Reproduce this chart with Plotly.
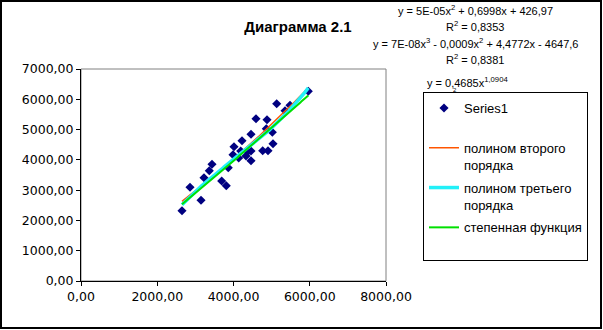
import numpy as np
import plotly.graph_objects as go

# Observed points (x, y)
x_vals = [2649, 3148, 2859, 3226, 3365, 3436, 3690, 3811, 3863, 4013,
          3987, 4136, 4223, 4189, 4328, 4372, 4459, 4459, 4459, 4590,
          4766, 4905, 4860, 4879, 5018, 5036, 5133, 5351, 5482, 5962]
y_vals = [2321, 2665, 3094, 3411, 3642, 3853, 3302, 3147, 3741, 4435,
          4170, 4061, 4633, 4293, 4128, 4270, 4293, 3972, 4844, 5359,
          4303, 4303, 5029, 5326, 4910, 4534, 5855, 5623, 5802, 6264]

# Trend line coefficients as printed on the chart
quad_coef = [5e-05, 0.6998, 426.97]
power_a = 0.4685
power_b = 1.0904

x_ticks = [0, 2000, 4000, 6000, 8000]
x_tick_text = ["0,00", "2000,00", "4000,00", "6000,00", "8000,00"]
y_ticks = [0, 1000, 2000, 3000, 4000, 5000, 6000, 7000]
y_tick_text = ["0,00", "1000,00", "2000,00", "3000,00", "4000,00",
               "5000,00", "6000,00", "7000,00"]

eq_lines = [
    "y = 5E-05x<sup>2</sup> + 0,6998x + 426,97",
    "R<sup>2</sup> = 0,8353",
    "y = 7E-08x<sup>3</sup> - 0,0009x<sup>2</sup> + 4,4772x - 4647,6",
    "R<sup>2</sup> = 0,8381",
]
power_eq = "y = 0,4685x<sup>1,0904</sup>"

FONT = "Arial, Liberation Sans, sans-serif"
TICK_FONT = "DejaVu Sans, Verdana, sans-serif"

xs = np.array(x_vals, dtype=float)
ys = np.array(y_vals, dtype=float)
xf = np.linspace(xs.min(), xs.max(), 200)
y_quad = np.polyval(quad_coef, xf)
y_cub = np.polyval(np.polyfit(xs, ys, 3), xf)
y_pow = power_a * xf ** power_b

fig = go.Figure()
fig.add_trace(go.Scatter(
    x=xs, y=ys, mode="markers", name="Series1<br> ", legendrank=1,
    legendgroup="a",
    marker=dict(symbol="diamond", size=7, color="#000080"),
))
fig.add_trace(go.Scatter(
    x=xf, y=y_quad, mode="lines", name="полином второго<br>порядка",
    legendrank=2, legendgroup="b", line=dict(color="#FF5500", width=1.5),
))
fig.add_trace(go.Scatter(
    x=xf, y=y_cub, mode="lines", name="полином третьего<br>порядка",
    legendrank=3, legendgroup="c", line=dict(color="#22F0F8", width=3.5),
))
fig.add_trace(go.Scatter(
    x=xf, y=y_pow, mode="lines", name="степенная функция<br> ",
    legendrank=4, legendgroup="d", line=dict(color="#00E000", width=2),
))

L, R, T, B = 81, 217, 69, 49
W, H = 603, 330
pw, ph = W - L - R, H - T - B


def px(xp):
    return (xp - L) / pw


def py(yp):
    return (H - B - yp) / ph


annotations = []
for i, line in enumerate(eq_lines):
    annotations.append(dict(
        x=px(475), y=py(10 + i * 16.3), xref="paper", yref="paper",
        text=line, showarrow=False, xanchor="center", yanchor="middle",
        font=dict(family=FONT, size=11, color="black"),
    ))
annotations.append(dict(
    x=px(425), y=py(82), xref="paper", yref="paper", text=power_eq,
    showarrow=False, xanchor="left", yanchor="middle",
    font=dict(family=FONT, size=11, color="black"),
))
annotations.append(dict(
    x=px(455), y=py(90), xref="paper", yref="paper", text="2",
    showarrow=False, xanchor="center", yanchor="middle",
    font=dict(family=FONT, size=6, color="black"),
))

fig.update_layout(
    width=W, height=H,
    margin=dict(l=L, r=R, t=T, b=B),
    paper_bgcolor="white", plot_bgcolor="white",
    title=dict(text="<b>Диаграмма 2.1</b>", x=298 / W, y=1 - 27 / H,
               xref="container", yref="container",
               xanchor="center", yanchor="middle",
               font=dict(family=FONT, size=15, color="black")),
    font=dict(family=FONT, size=13, color="black"),
    xaxis=dict(range=[0, 8000], tickvals=x_ticks, ticktext=x_tick_text,
               showgrid=False, zeroline=False, showline=True,
               linecolor="black", linewidth=1, ticks="outside",
               ticklen=4, tickcolor="black",
               tickfont=dict(family=TICK_FONT, size=12.5)),
    yaxis=dict(range=[0, 7000], tickvals=y_ticks, ticktext=y_tick_text,
               showgrid=False, zeroline=False, showline=True,
               linecolor="black", linewidth=1, ticks="outside",
               ticklen=4, tickcolor="black",
               tickfont=dict(family=TICK_FONT, size=12.5)),
    legend=dict(x=px(423), y=py(92), xanchor="left", yanchor="top",
                bordercolor="black", borderwidth=1, bgcolor="white",
                valign="top", tracegroupgap=3,
                font=dict(family=FONT, size=13, color="black")),
    annotations=annotations,
    shapes=[
        # plot area frame
        dict(type="rect", xref="paper", yref="paper", x0=0, y0=0, x1=1, y1=1,
             line=dict(color="#808080", width=1), layer="below"),
        # chart area frame
        dict(type="rect", xref="paper", yref="paper",
             x0=px(1), y0=py(328), x1=px(601), y1=py(1),
             line=dict(color="black", width=2)),
    ],
    showlegend=True,
)

fig.write_html("out.html")
